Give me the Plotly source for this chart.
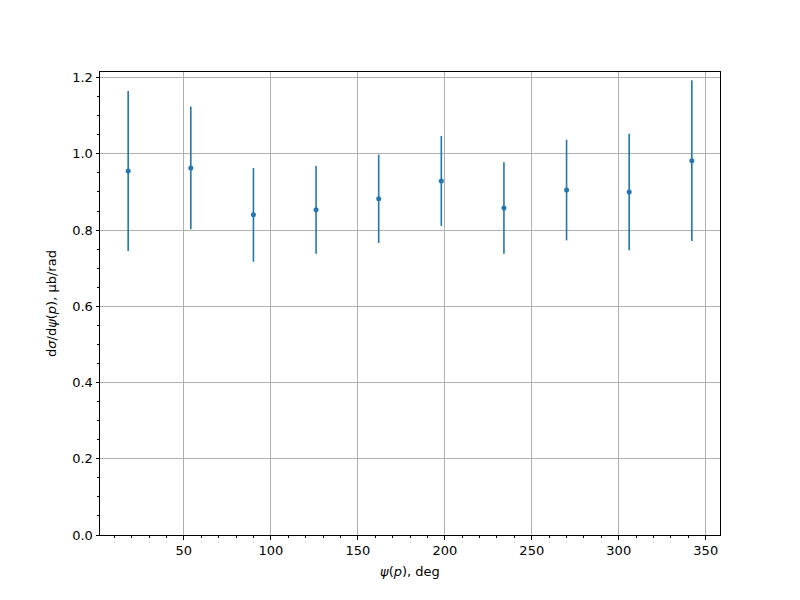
import plotly.graph_objects as go

psi_deg = [18, 54, 90, 126, 162, 198, 234, 270, 306, 342]
dsigma = [0.955, 0.963, 0.840, 0.853, 0.882, 0.929, 0.858, 0.905, 0.900, 0.982]
dsigma_err = [0.210, 0.161, 0.123, 0.115, 0.116, 0.118, 0.120, 0.132, 0.153, 0.211]

x_ticks = [50, 100, 150, 200, 250, 300, 350]
y_ticks = [0.0, 0.2, 0.4, 0.6, 0.8, 1.0, 1.2]

C = "#1f77b4"
FONT = "DejaVu Sans"

fig = go.Figure()
fig.add_trace(go.Scatter(
    x=psi_deg, y=dsigma, mode="markers",
    marker=dict(color=C, size=5),
    error_y=dict(type="data", array=dsigma_err, visible=True,
                 color=C, thickness=1.6, width=0),
    showlegend=False,
))

axis_common = dict(
    showline=True, linecolor="black", linewidth=1, mirror=True,
    ticks="outside", ticklen=3.5, tickwidth=0.8, tickcolor="black",
    showgrid=True, gridcolor="#b0b0b0", gridwidth=0.8,
    zeroline=False,
    tickfont=dict(family=FONT, size=13, color="black"),
    title_font=dict(family=FONT, size=13, color="black"),
)

fig.update_xaxes(
    range=[1.8, 358.2], tickvals=x_ticks, ticktext=[str(v) for v in x_ticks],
    minor=dict(dtick=10, tick0=0, ticks="outside", ticklen=2, tickcolor="black", showgrid=False),
    title=dict(text="<i>ψ</i>(<i>p</i>), deg", standoff=9),
    **axis_common,
)
fig.update_yaxes(
    range=[0, 1.2147], tickvals=y_ticks, ticktext=[f"{v:.1f}" for v in y_ticks],
    minor=dict(dtick=0.05, tick0=0, ticks="outside", ticklen=2, tickcolor="black", showgrid=False),
    title=dict(text="d<i>σ</i>/d<i>ψ</i>(<i>p</i>), μb/rad", standoff=12),
    **axis_common,
)

fig.update_layout(
    width=800, height=600,
    margin=dict(l=100, r=80, t=72, b=65),
    plot_bgcolor="white", paper_bgcolor="white",
    font=dict(family=FONT, size=13, color="black"),
)

fig.write_html("out.html", config={"displayModeBar": False},
               post_script="document.body.style.margin='0';")
